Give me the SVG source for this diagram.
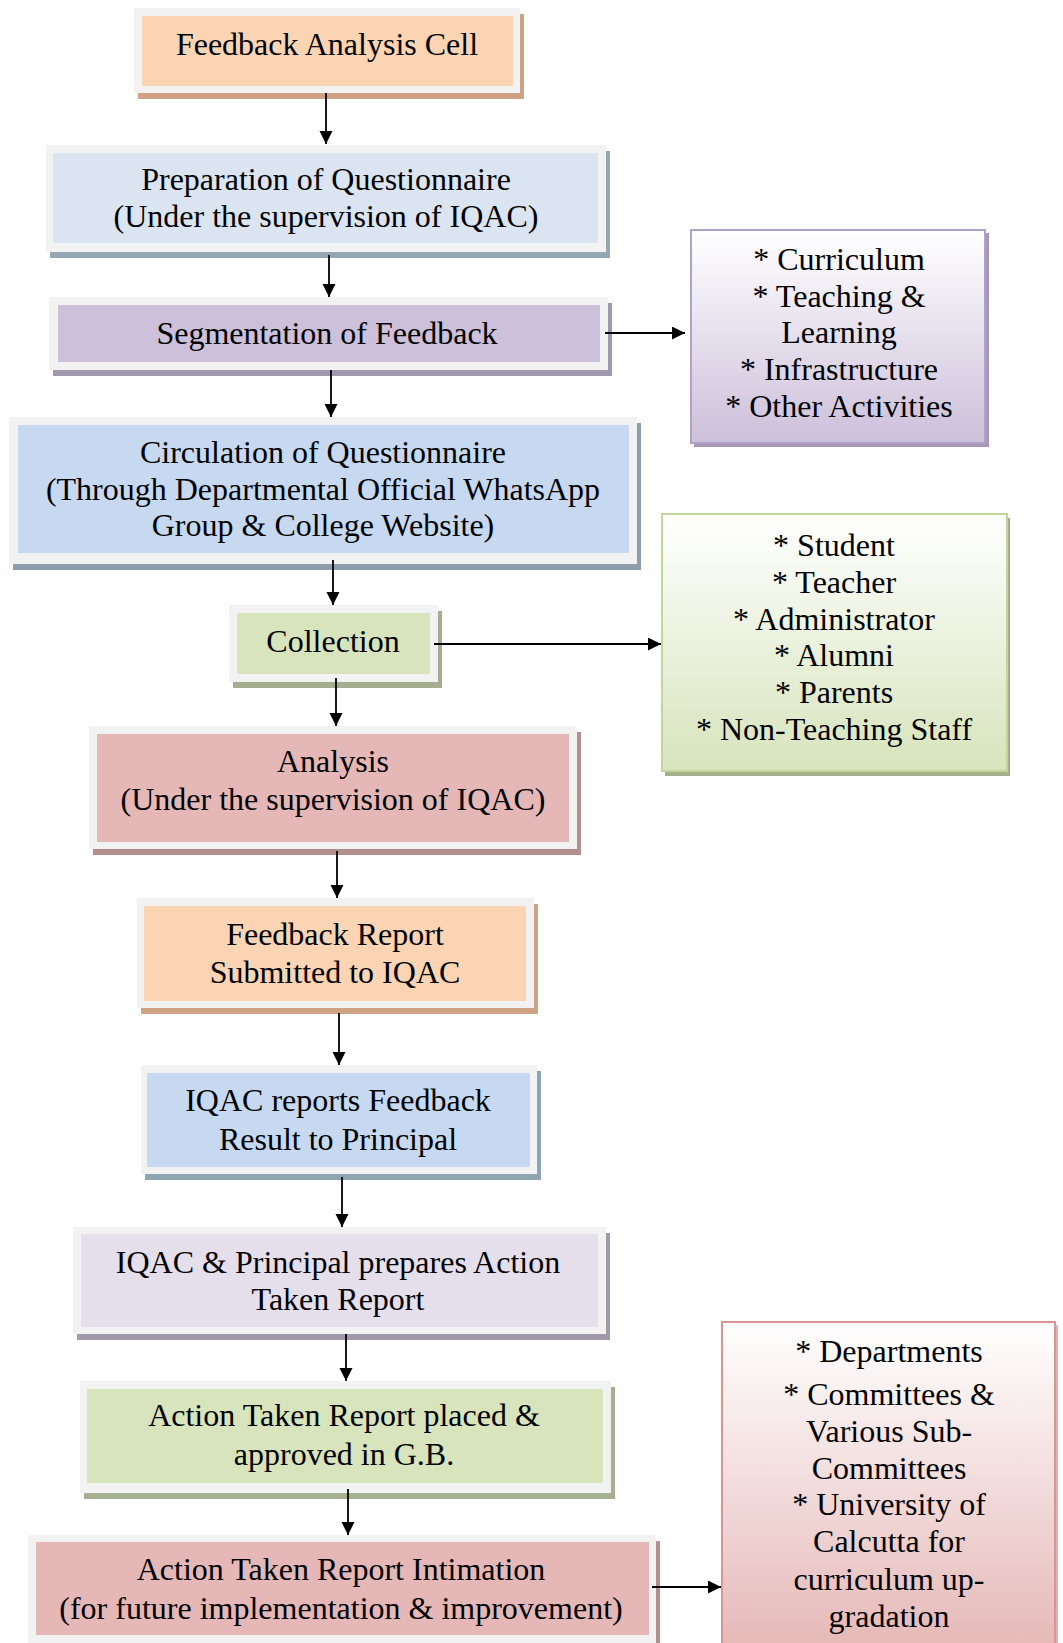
<svg xmlns="http://www.w3.org/2000/svg" width="1063" height="1643" viewBox="0 0 1063 1643">
<style>
text{font-family:"Liberation Serif","Times New Roman",serif;font-size:32px;fill:#000;text-anchor:middle}
.frame{fill:#f2f2f2}
.conn line{stroke:#000;stroke-width:1.8;fill:none}
</style>
<defs>
<marker id="ah" markerUnits="userSpaceOnUse" markerWidth="15" markerHeight="15" refX="13" refY="6.5" orient="auto">
<path d="M0,0 L13,6.5 L0,13 Z" fill="#000"/>
</marker>
<linearGradient id="gPurple" x1="0" y1="0" x2="0" y2="1"><stop offset="0" stop-color="#ffffff"/><stop offset="1" stop-color="#ccc0da"/></linearGradient>
<linearGradient id="gGreen" x1="0" y1="0" x2="0" y2="1"><stop offset="0" stop-color="#ffffff"/><stop offset="1" stop-color="#d7e4bc"/></linearGradient>
<linearGradient id="gPink" x1="0" y1="0" x2="0" y2="1"><stop offset="0" stop-color="#ffffff"/><stop offset="1" stop-color="#e5b8b7"/></linearGradient>
</defs>
<rect width="1063" height="1643" fill="#fff"/>

<g id="n1">
<rect x="138" y="14" width="386" height="85" fill="#cfa284"/>
<rect class="frame" x="134" y="8" width="386" height="85"/>
<rect x="142" y="16" width="371" height="70" fill="#fbd4b4"/>
<text x="327" y="55">Feedback Analysis Cell</text>
</g>

<g id="n2">
<rect x="50" y="151" width="560" height="107" fill="#93a8b3"/>
<rect class="frame" x="46" y="145" width="560" height="107"/>
<rect x="53" y="153" width="545" height="90" fill="#dbe5f1"/>
<text x="326" y="190">Preparation of Questionnaire</text>
<text x="326" y="227">(Under the supervision of IQAC)</text>
</g>

<g id="n3">
<rect x="53" y="303" width="559" height="73" fill="#a298ae"/>
<rect class="frame" x="49" y="297" width="559" height="73"/>
<rect x="58" y="305" width="542" height="57" fill="#ccc0da"/>
<text x="327" y="344">Segmentation of Feedback</text>
</g>

<g id="n4">
<rect x="13" y="423" width="628" height="147" fill="#8e9dae"/>
<rect class="frame" x="9" y="417" width="628" height="147"/>
<rect x="18" y="425" width="611" height="128" fill="#c6d9f0"/>
<text x="323" y="463">Circulation of Questionnaire</text>
<text x="323" y="500">(Through Departmental Official WhatsApp</text>
<text x="323" y="536">Group &amp; College Website)</text>
</g>

<g id="n5">
<rect x="233" y="611" width="209" height="77" fill="#a5ad90"/>
<rect class="frame" x="229" y="605" width="209" height="77"/>
<rect x="237" y="613" width="193" height="61" fill="#d7e4bc"/>
<text x="333" y="652">Collection</text>
</g>

<g id="n6">
<rect x="93" y="732" width="488" height="123" fill="#b38f8f"/>
<rect class="frame" x="89" y="726" width="488" height="123"/>
<rect x="97" y="734" width="472" height="108" fill="#e5b8b7"/>
<text x="333" y="772">Analysis</text>
<text x="333" y="810">(Under the supervision of IQAC)</text>
</g>

<g id="n7">
<rect x="141" y="904" width="397" height="110" fill="#cfa284"/>
<rect class="frame" x="137" y="898" width="397" height="110"/>
<rect x="144" y="906" width="382" height="95" fill="#fbd4b4"/>
<text x="335" y="945">Feedback Report</text>
<text x="335" y="983">Submitted to IQAC</text>
</g>

<g id="n8">
<rect x="145" y="1071" width="396" height="109" fill="#8ea6b2"/>
<rect class="frame" x="141" y="1065" width="396" height="109"/>
<rect x="147" y="1073" width="383" height="94" fill="#c6d9f0"/>
<text x="338" y="1111">IQAC reports Feedback</text>
<text x="338" y="1150">Result to Principal</text>
</g>

<g id="n9">
<rect x="77" y="1233" width="533" height="107" fill="#a199ab"/>
<rect class="frame" x="73" y="1227" width="533" height="107"/>
<rect x="81" y="1234" width="517" height="93" fill="#e5dfec"/>
<text x="338" y="1273">IQAC &amp; Principal prepares Action</text>
<text x="338" y="1310">Taken Report</text>
</g>

<g id="n10">
<rect x="84" y="1387" width="531" height="112" fill="#a5b08e"/>
<rect class="frame" x="80" y="1381" width="531" height="112"/>
<rect x="87" y="1389" width="516" height="94" fill="#d7e4bc"/>
<text x="344" y="1426">Action Taken Report placed &amp;</text>
<text x="344" y="1465">approved in G.B.</text>
</g>

<g id="n11">
<rect x="32" y="1541" width="628" height="115" fill="#b38f8f"/>
<rect class="frame" x="28" y="1535" width="628" height="115"/>
<rect x="36" y="1542" width="613" height="93" fill="#e5b8b7"/>
<text x="341" y="1580">Action Taken Report Intimation</text>
<text x="341" y="1619">(for future implementation &amp; improvement)</text>
</g>

<g id="s1">
<rect x="694" y="233" width="295" height="214" fill="#a597b8"/>
<rect x="691" y="230" width="294" height="213" fill="url(#gPurple)" stroke="#b2a1c7" stroke-width="2"/>
<text x="839" y="270">* Curriculum</text>
<text x="839" y="307">* Teaching &amp;</text>
<text x="839" y="343">Learning</text>
<text x="839" y="380">* Infrastructure</text>
<text x="839" y="417">* Other Activities</text>
</g>

<g id="s2">
<rect x="665" y="518" width="345" height="258" fill="#a6b08c"/>
<rect x="662" y="514" width="345" height="257" fill="url(#gGreen)" stroke="#c2d69b" stroke-width="2"/>
<text x="834" y="556">* Student</text>
<text x="834" y="593">* Teacher</text>
<text x="834" y="630">* Administrator</text>
<text x="834" y="666">* Alumni</text>
<text x="834" y="703">* Parents</text>
<text x="834" y="740">* Non-Teaching Staff</text>
</g>

<g id="s3">
<rect x="725" y="1325" width="333" height="330" fill="#e0b6b6"/>
<rect x="722" y="1322" width="333" height="330" fill="url(#gPink)" stroke="#d99594" stroke-width="2"/>
<text x="889" y="1362">* Departments</text>
<text x="889" y="1405">* Committees &amp;</text>
<text x="889" y="1442">Various Sub-</text>
<text x="889" y="1479">Committees</text>
<text x="889" y="1515">* University of</text>
<text x="889" y="1552">Calcutta for</text>
<text x="889" y="1590">curriculum up-</text>
<text x="889" y="1627">gradation</text>
</g>

<g id="connectors" class="conn">
<line x1="326" y1="93" x2="326" y2="144" marker-end="url(#ah)"/>
<line x1="329" y1="255" x2="329" y2="297" marker-end="url(#ah)"/>
<line x1="331" y1="370" x2="331" y2="417" marker-end="url(#ah)"/>
<line x1="333" y1="560" x2="333" y2="605" marker-end="url(#ah)"/>
<line x1="336" y1="678" x2="336" y2="726" marker-end="url(#ah)"/>
<line x1="337" y1="851" x2="337" y2="898" marker-end="url(#ah)"/>
<line x1="339" y1="1013" x2="339" y2="1065" marker-end="url(#ah)"/>
<line x1="342" y1="1177" x2="342" y2="1227" marker-end="url(#ah)"/>
<line x1="346" y1="1334" x2="346" y2="1381" marker-end="url(#ah)"/>
<line x1="348" y1="1489" x2="348" y2="1535" marker-end="url(#ah)"/>
<line x1="605" y1="333" x2="685" y2="333" marker-end="url(#ah)"/>
<line x1="434" y1="644" x2="661" y2="644" marker-end="url(#ah)"/>
<line x1="652" y1="1587" x2="721" y2="1587" marker-end="url(#ah)"/>
</g>
</svg>
